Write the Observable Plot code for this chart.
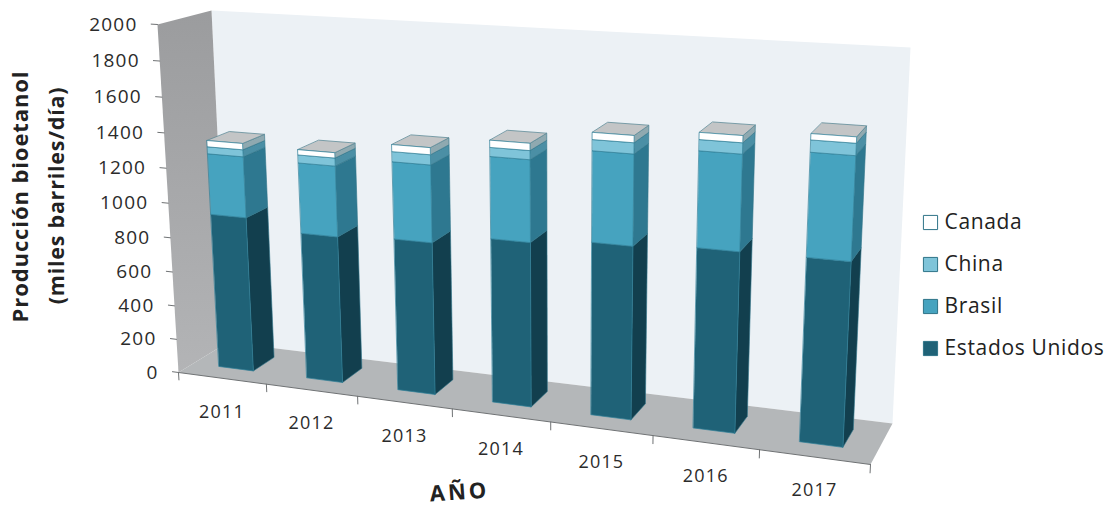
<!DOCTYPE html>
<html>
<head>
<meta charset="utf-8">
<script src="https://cdn.jsdelivr.net/npm/d3@7"></script>
<script src="https://cdn.jsdelivr.net/npm/@observablehq/plot@0.6"></script>
<style>
html,body{margin:0;padding:0;background:#fff}
.ls-tick text{letter-spacing:1.2px}
.ls-legend text{letter-spacing:0.65px}
.ls-title1 text{letter-spacing:0.9px}
.ls-title2 text{letter-spacing:0.75px}
.ls-xtitle text{letter-spacing:3px}
</style>
</head>
<body>
<div id="chart"></div>
<script>
const years = [2011, 2012, 2013, 2014, 2015, 2016, 2017];
const seriesNames = ["Estados Unidos", "Brasil", "China", "Canada"];
const estadosUnidos = [908, 850, 870, 925, 959, 984, 988];
const brasil = [350, 400, 431, 449, 489, 507, 539];
const china = [40, 45, 56, 49, 59, 58, 62];
const canada = [36, 30, 39, 39, 38, 37, 32];
const valueTicks = [0, 200, 400, 600, 800, 1000, 1200, 1400, 1600, 1800, 2000];
const faceColors = ["#1f6277", "#46a3bf", "#7fc4d9", "#ffffff"];
const sideColors = ["#123f4e", "#2e7890", "#4b8fa5", "#8fa9b0"];
const seriesValues = [estadosUnidos, brasil, china, canada];

// Perspective of the 3D box: corners of front and back planes (bottom-left, bottom-right, top-right, top-left)
const frontPlane = [[178, 372], [870, 464], [890, 68], [157, 24]];
const backPlane = [[227, 342], [892, 423], [910, 47], [211, 10]];
function squareToQuad(q) {
  const [[x0, y0], [x1, y1], [x2, y2], [x3, y3]] = q;
  const dx1 = x1 - x2, dx2 = x3 - x2, sx = x0 - x1 + x2 - x3;
  const dy1 = y1 - y2, dy2 = y3 - y2, sy = y0 - y1 + y2 - y3;
  const den = dx1 * dy2 - dx2 * dy1;
  const g = (sx * dy2 - dx2 * sy) / den, h = (dx1 * sy - sx * dy1) / den;
  const a = x1 - x0 + g * x1, b = x3 - x0 + h * x3, c = x0;
  const d = y1 - y0 + g * y1, e = y3 - y0 + h * y3, f = y0;
  return (s, t) => {
    const w = g * s + h * t + 1;
    return [(a * s + b * t + c) / w, (d * s + e * t + f) / w];
  };
}
const front = squareToQuad(frontPlane), back = squareToQuad(backPlane);
const nCat = years.length, maxV = 2000;
const perspective = d3.geoTransform({
  point(u, v, depth) {
    const d = depth || 0, s = u / nCat, t = v / maxV;
    const F = front(s, t), B = back(s, t);
    this.stream.point(F[0] + (B[0] - F[0]) * d, F[1] + (B[1] - F[1]) * d);
  }
});
const poly = (pts, properties) => ({type: "Feature", properties, geometry: {type: "Polygon", coordinates: [[...pts, pts[0]]]}});
const seg = (a, b) => ({type: "LineString", coordinates: [a, b]});

const barU0 = 0.295, barU1 = 0.69, barD0 = 0.31, barD1 = 0.75;
const fronts = [], sides = seriesNames.map(() => []), tops = [];
years.forEach((yr, i) => {
  let base = 0;
  const u0 = i + barU0, u1 = i + barU1;
  seriesValues.forEach((vals, j) => {
    const top = base + vals[i];
    sides[j].push(poly([[u1, base, barD0], [u1, base, barD1], [u1, top, barD1], [u1, top, barD0]]));
    fronts.push(poly([[u0, base, barD0], [u1, base, barD0], [u1, top, barD0], [u0, top, barD0]], {name: seriesNames[j]}));
    base = top;
  });
  tops.push(poly([[u0, base, barD0], [u1, base, barD0], [u1, base, barD1], [u0, base, barD1]]));
});

const leftWall = poly([[0, 0, 0], [0, 0, 1], [0, maxV, 1], [0, maxV, 0]]);
const backWall = poly([[0, 0, 1], [nCat, 0, 1], [nCat, maxV, 1], [0, maxV, 1]]);
const floor = poly([[0, 0, 0], [nCat, 0, 0], [nCat, 0, 1], [0, 0, 1]]);
const axisTicks = [
  ...valueTicks.map(v => seg([-0.07, v, 0], [0, v, 0])),
  ...d3.range(nCat + 1).map(i => seg([i, -45, 0], [i, 0, 0]))
];
const font = "'Open Sans', sans-serif";
const legendTop = 222, legendStep = 42;

const wallGradient = () => {
  const defs = d3.create("svg:defs");
  const g = defs.append("linearGradient").attr("id", "wallShade").attr("x1", 0).attr("x2", 0).attr("y1", 0).attr("y2", 1);
  g.append("stop").attr("offset", "0%").attr("stop-color", "#9b9c9e");
  g.append("stop").attr("offset", "100%").attr("stop-color", "#b3b4b6");
  return defs.node();
};

const plot = Plot.plot({
  width: 1112, height: 510,
  marginTop: 0, marginRight: 0, marginBottom: 0, marginLeft: 0,
  projection: perspective,
  color: {domain: seriesNames, range: faceColors},
  style: {background: "#fff", fontFamily: font},
  marks: [
    wallGradient,
    Plot.geo([backWall], {fill: "#ecf1f5"}),
    Plot.geo([leftWall], {fill: "url(#wallShade)"}),
    Plot.geo([floor], {fill: "#b4b7b9"}),
    Plot.geo([{type: "LineString", coordinates: [[0, 0, 0], [nCat, 0, 0]]}], {stroke: "#6f7274", strokeWidth: 1}),
    Plot.geo(axisTicks, {stroke: "#6f7274", strokeWidth: 1}),
    ...sides.map((s, j) => Plot.geo(s, {fill: sideColors[j], stroke: "#2f7488", strokeWidth: 0.6})),
    Plot.geo(tops, {fill: "#c3c5c6", stroke: "#5f8c98", strokeWidth: 0.8}),
    Plot.geo(fronts, {fill: d => d.properties.name, stroke: "#2f7f98", strokeWidth: 0.7}),
    Plot.text(valueTicks, {x: 0, y: d => d, text: d => String(d), dx: -20, textAnchor: "end", fontSize: 19, fill: "#2b2b2b", className: "ls-tick"}),
    Plot.text(years, {x: (d, i) => i + 0.5, y: 0, text: d => String(d), dy: 33.5, fontSize: 18, fill: "#2b2b2b", className: "ls-tick"}),
    ...seriesNames.map((name, j) => Plot.dot([name], {
      frameAnchor: "top-left", dx: 930, dy: legendTop + (3 - j) * legendStep,
      symbol: "square", r: 8, fill: d => d, stroke: "#2f7488", strokeWidth: 1
    })),
    ...seriesNames.map((name, j) => Plot.text([name], {
      frameAnchor: "top-left", dx: 944, dy: legendTop + (3 - j) * legendStep,
      text: d => d, textAnchor: "start", lineAnchor: "middle", fontSize: 21, fill: "#222", className: "ls-legend"
    })),
    Plot.text(["Producción bioetanol"], {frameAnchor: "top-left", dx: 20, dy: 196, rotate: -90, lineAnchor: "middle", textAnchor: "middle", text: d => d, fontSize: 22, fontWeight: 700, fill: "#222", className: "ls-title1"}),
    Plot.text(["(miles barriles/día)"], {frameAnchor: "top-left", dx: 57, dy: 195, rotate: -90, lineAnchor: "middle", textAnchor: "middle", text: d => d, fontSize: 21.5, fontWeight: 700, fill: "#222", className: "ls-title2"}),
    Plot.text(["AÑO"], {frameAnchor: "top-left", dx: 459, dy: 492, rotate: -4, lineAnchor: "middle", textAnchor: "middle", text: d => d, fontSize: 22, fontWeight: 700, fill: "#222", className: "ls-xtitle"})
  ]
});
document.getElementById("chart").appendChild(plot);
</script>
</body>
</html>
